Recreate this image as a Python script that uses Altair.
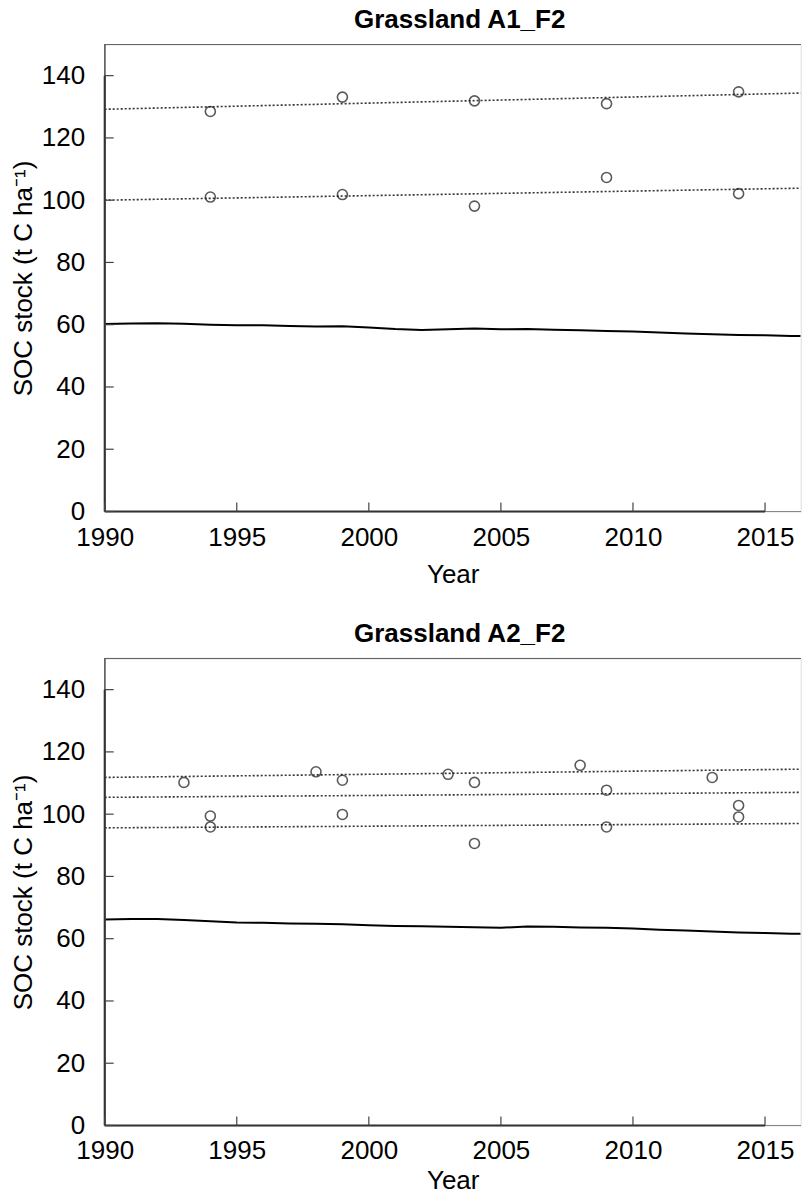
import altair as alt
import pandas as pd

# ---------------- data ----------------
x_ticks = [1990, 1995, 2000, 2005, 2010, 2015]
y_ticks = [0, 20, 40, 60, 80, 100, 120, 140]
x_domain = [1990, 2016.35]         # the reference is cut off at the right edge
y_domain = [0, 150]

# Panel 1: Grassland A1_F2
a1_obs_years = [1994, 1999, 2004, 2009, 2014]
a1_obs_upper = [128.5, 133.1, 131.9, 131.0, 134.8]
a1_obs_lower = [101.0, 101.8, 98.1, 107.3, 102.1]
a1_trend_start = [129.2, 100.0]   # fitted value at the left edge (1990)
a1_trend_end = [134.4, 103.85]    # fitted value at the right (cut) edge
# simulated SOC stock, read yearly; last value is where the picture is cut
model_years = list(range(1990, 2017)) + [2016.35]
a1_model = [60.2, 60.4, 60.5, 60.3, 60.0, 59.8, 59.8, 59.6, 59.4, 59.5,
            59.1, 58.6, 58.3, 58.5, 58.8, 58.5, 58.6, 58.4, 58.2, 58.0,
            57.8, 57.5, 57.2, 56.9, 56.7, 56.6, 56.4, 56.35]

# Panel 2: Grassland A2_F2
a2_obs_years = [1993, 1994, 1994, 1998, 1999, 1999, 2003, 2004, 2004,
                2008, 2009, 2009, 2013, 2014, 2014]
a2_obs_values = [110.2, 99.4, 95.9, 113.6, 110.9, 99.9, 112.8, 110.2, 90.6,
                 115.7, 107.7, 95.9, 111.8, 102.8, 99.1]
a2_trend_start = [111.8, 105.4, 95.6]
a2_trend_end = [114.45, 107.0, 97.0]
a2_model = [66.2, 66.3, 66.3, 66.0, 65.6, 65.2, 65.1, 64.9, 64.8, 64.6,
            64.3, 64.1, 64.0, 63.8, 63.7, 63.5, 63.9, 63.8, 63.6, 63.5,
            63.3, 62.9, 62.6, 62.3, 62.0, 61.8, 61.6, 61.55]

# ---------------- layout constants ----------------
W = 696
H = 467
FONT = "Liberation Sans"
FS = 26
TICK_LEN = 9
INK = "#151515"

xs = alt.Scale(domain=x_domain, nice=False, zero=False)
ys = alt.Scale(domain=y_domain, nice=False, zero=False)


def panel(title, obs_years, obs_values, trend_start, trend_end, model_vals,
          year_title_pad):
    model_df = pd.DataFrame({"year": model_years, "soc": model_vals})
    obs_df = pd.DataFrame({"year": obs_years, "soc": obs_values})
    trend_rows = []
    for i, (s, e) in enumerate(zip(trend_start, trend_end)):
        trend_rows.append({"id": i, "year": x_domain[0], "soc": s})
        trend_rows.append({"id": i, "year": x_domain[1], "soc": e})
    trend_df = pd.DataFrame(trend_rows)
    xt_df = pd.DataFrame({"t": x_ticks})
    yt_df = pd.DataFrame({"t": y_ticks})
    xaxis_df = pd.DataFrame({"x": [x_ticks[0]], "x2": [x_ticks[-1]], "y": [y_ticks[0]]})
    yaxis_df = pd.DataFrame({"x": [x_domain[0]], "y": [y_ticks[0]], "y2": [y_ticks[-1]]})

    model = alt.Chart(model_df).mark_line(color="black", strokeWidth=2, clip=True).encode(
        x=alt.X("year:Q", scale=xs,
                axis=alt.Axis(values=x_ticks, format="d", title="Year",
                              ticks=False, domain=False, grid=False,
                              labelFlush=False, labelPadding=12.5,
                              labelFontSize=FS, titleFontSize=FS,
                              labelFont=FONT, titleFont=FONT,
                              titleFontWeight="normal",
                              titlePadding=year_title_pad,
                              labelColor="black", titleColor="black")),
        y=alt.Y("soc:Q", scale=ys,
                axis=alt.Axis(values=y_ticks, format="d",
                              title="SOC stock (t C ha⁻¹)",
                              ticks=False, domain=False, grid=False,
                              labelFlush=False, labelPadding=20,
                              labelFontSize=FS, titleFontSize=FS,
                              labelFont=FONT, titleFont=FONT,
                              titleFontWeight="normal", titlePadding=5,
                              labelColor="black", titleColor="black")),
    )
    trend = alt.Chart(trend_df).mark_line(color="#333333", strokeWidth=1.6,
                                          strokeDash=[2, 2], clip=True).encode(
        x=alt.X("year:Q", scale=xs), y=alt.Y("soc:Q", scale=ys), detail="id:N")
    pts = alt.Chart(obs_df).mark_point(shape="circle", filled=False, size=100,
                                       strokeWidth=1.6, color=INK).encode(
        x=alt.X("year:Q", scale=xs), y=alt.Y("soc:Q", scale=ys))
    # thin box (top, left, bottom); the right side lies outside the picture
    frame_top = alt.Chart(xt_df).mark_rule(color="#666666", strokeWidth=1).encode(
        x=alt.value(0), x2=alt.value(W), y=alt.value(0))
    frame_left = alt.Chart(xt_df).mark_rule(color="#666666", strokeWidth=1).encode(
        x=alt.value(0), y=alt.value(0), y2=alt.value(H))
    frame_bottom = alt.Chart(xt_df).mark_rule(color="#888888", strokeWidth=1).encode(
        x=alt.value(0), x2=alt.value(W), y=alt.value(H))
    # R-style axis lines (first to last tick) and inward ticks
    xaxis = alt.Chart(xaxis_df).mark_rule(color="#333333", strokeWidth=2).encode(
        x=alt.X("x:Q", scale=xs), x2="x2:Q", y=alt.Y("y:Q", scale=ys))
    yaxis = alt.Chart(yaxis_df).mark_rule(color="#333333", strokeWidth=2).encode(
        x=alt.X("x:Q", scale=xs), y=alt.Y("y:Q", scale=ys), y2="y2:Q")
    xt = alt.Chart(xt_df).mark_rule(color="#444444", strokeWidth=1.2).encode(
        x=alt.X("t:Q", scale=xs), y=alt.value(H), y2=alt.value(H - TICK_LEN))
    yt = alt.Chart(yt_df).mark_rule(color="#444444", strokeWidth=1.2).encode(
        y=alt.Y("t:Q", scale=ys), x=alt.value(0), x2=alt.value(TICK_LEN))

    return alt.layer(model, trend, pts, frame_top, frame_left, frame_bottom,
                     xaxis, yaxis, xt, yt).properties(
        width=W, height=H,
        title=alt.TitleParams(title, fontSize=FS, fontWeight="bold", font=FONT,
                              anchor="middle", frame="group", offset=10.8,
                              dx=7, color="black"),
    )


p1 = panel("Grassland A1_F2", a1_obs_years + a1_obs_years,
           a1_obs_upper + a1_obs_lower, a1_trend_start, a1_trend_end, a1_model,
           11.5)
p2 = panel("Grassland A2_F2", a2_obs_years, a2_obs_values,
           a2_trend_start, a2_trend_end, a2_model, 3.5)

chart = alt.vconcat(p1, p2, spacing=32).configure_view(
    stroke=None
).configure(background="white",
            padding={"left": 1.7, "top": -1.5, "right": 0, "bottom": -5.5})

chart.save("out.html", embed_options={"renderer": "svg", "actions": False})
